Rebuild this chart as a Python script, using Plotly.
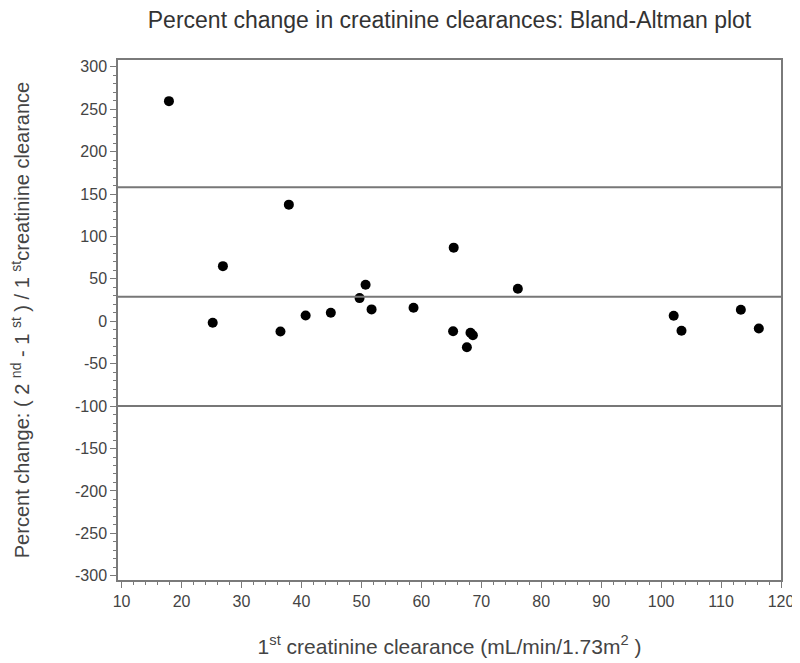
import plotly.graph_objects as go

# 1st creatinine clearance (mL/min/1.73m2)
clearance_1st = [17.9, 25.2, 26.9, 36.5, 37.9, 40.7, 44.9, 49.7, 50.7, 51.7, 58.7,
                 65.3, 65.4, 67.6, 68.2, 68.6, 76.1, 102.1, 103.4, 113.3, 116.3]
# percent change (2nd - 1st) / 1st
pct_change = [259.5, -1.8, 65, -12, 137.5, 6.8, 10, 27.3, 43, 14, 16,
              -11.7, 86.8, -30.6, -13.6, -16.4, 38.4, 6.5, -11.2, 13.6, -8.5]

# mean and limits of agreement
ref_lines = [158, 29, -100]

x_ticks = list(range(10, 121, 10))
y_ticks = list(range(-300, 301, 50))
y_tick_text = [str(v) for v in y_ticks]  # plain hyphen minus like the original

FONT = "Liberation Sans, Arial, sans-serif"
TEXT = "#444444"
AXIS = "#7a7a7a"

fig = go.Figure()

fig.add_trace(go.Scatter(
    x=clearance_1st,
    y=pct_change,
    mode="markers",
    marker=dict(color="black", size=10),
    showlegend=False,
))

for y in ref_lines:
    fig.add_hline(y=y, line=dict(color="#777777", width=2))

# page body adds an 8px offset, so the figure is a bit smaller than the window
fig.update_layout(
    width=792,
    height=655,
    plot_bgcolor="white",
    paper_bgcolor="white",
    margin=dict(l=110, r=19, t=52, b=83, autoexpand=False),
    title=dict(
        text="Percent change in creatinine clearances: Bland-Altman plot",
        xref="paper", x=0.5, xanchor="center",
        yref="container", y=0.982, yanchor="middle",
        font=dict(family=FONT, size=23, color="#333333"),
        automargin=False,
    ),
    font=dict(family=FONT, size=16, color=TEXT),
)

fig.update_xaxes(
    range=[9.4, 120],
    tickvals=x_ticks,
    ticks="outside", ticklen=6, tickcolor=AXIS,
    minor=dict(dtick=2, ticks="outside", ticklen=3, tickcolor=AXIS),
    showline=True, linecolor=AXIS, linewidth=1.5, mirror=True,
    showgrid=False, zeroline=False, automargin=False,
    tickfont=dict(family=FONT, size=16, color=TEXT),
    title=dict(
        text="1<sup>st</sup> creatinine clearance (mL/min/1.73m<sup>2</sup> )",
        font=dict(family=FONT, size=21, color=TEXT),
        standoff=30,
    ),
)

fig.update_yaxes(
    range=[-305, 308],
    tickvals=y_ticks,
    ticktext=y_tick_text,
    ticks="outside", ticklen=6, tickcolor=AXIS,
    minor=dict(dtick=10, ticks="outside", ticklen=3, tickcolor=AXIS),
    showline=True, linecolor=AXIS, linewidth=1.5, mirror=True,
    showgrid=False, zeroline=False, automargin=False,
    tickfont=dict(family=FONT, size=16, color=TEXT),
    title=dict(
        text="Percent change: ( 2 <sup>nd</sup> - 1 <sup>st</sup> ) / 1 <sup>st</sup>creatinine clearance",
        font=dict(family=FONT, size=20, color=TEXT),
        standoff=50,
    ),
)

fig.write_html("out.html")
